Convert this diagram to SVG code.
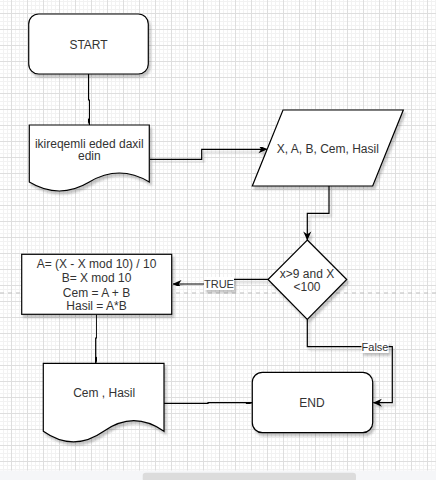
<svg xmlns="http://www.w3.org/2000/svg" width="436" height="480" viewBox="0 0 436 480">
<defs>
<pattern id="grid" x="11" y="13" width="16" height="16" patternUnits="userSpaceOnUse">
<rect x="0" y="0" width="16" height="16" fill="#ffffff"/>
<rect x="4" y="0" width="1" height="16" fill="#f2f2f2"/>
<rect x="8" y="0" width="1" height="16" fill="#f2f2f2"/>
<rect x="12" y="0" width="1" height="16" fill="#f2f2f2"/>
<rect x="0" y="4" width="16" height="1" fill="#f2f2f2"/>
<rect x="0" y="8" width="16" height="1" fill="#f2f2f2"/>
<rect x="0" y="12" width="16" height="1" fill="#f2f2f2"/>
<rect x="0" y="0" width="1" height="16" fill="#dedede"/>
<rect x="0" y="0" width="16" height="1" fill="#dedede"/>
</pattern>
<filter id="sh" x="-20%" y="-20%" width="140%" height="150%">
<feDropShadow dx="2" dy="3" stdDeviation="1" flood-color="#000" flood-opacity="0.22"/>
</filter>
<marker id="arr" viewBox="0 0 10 10" refX="9.5" refY="5" markerWidth="9" markerHeight="9" markerUnits="userSpaceOnUse" orient="auto">
<path d="M0,0.5 L10,5 L0,9.5 L3,5 Z" fill="#000"/>
</marker>
<style>
.shape{fill:#fff;stroke:#000;stroke-width:1.2;filter:url(#sh)}
.t{font-family:"Liberation Sans",Arial,sans-serif;font-size:12px;fill:#333;text-anchor:middle}
.lt{font-family:"Liberation Sans",Arial,sans-serif;font-size:11px;fill:#333;text-anchor:middle}
.edge{fill:none;stroke:#000;stroke-width:1.2;filter:url(#sh)}
.lbl{fill:#fff;filter:url(#sh)}
</style>
</defs>
<rect x="0" y="0" width="436" height="480" fill="url(#grid)"/>
<line x1="0" y1="293" x2="436" y2="293" stroke="#bdbdbd" stroke-width="1" stroke-dasharray="4,4"/>
<rect x="0" y="470.5" width="436" height="9.5" fill="#f5f6f8"/>
<rect x="142.7" y="472.7" width="213.3" height="9" rx="3" fill="#dcdcdc"/>

<g id="connectors">
<path class="edge" d="M88.5,74 V100 H89.5 V125" marker-end="url(#arr)"/>
<path class="edge" d="M150,159.3 H201.7 V149.3 H267" marker-end="url(#arr)"/>
<path class="edge" d="M329,186 V213.3 H307.3 V240" marker-end="url(#arr)"/>
<path class="edge" d="M268,279.3 H219 V284 H173" marker-end="url(#arr)"/>
<path class="edge" d="M96.7,314.3 V338 H95.7 V363.3" marker-end="url(#arr)"/>
<path class="edge" d="M164,403.3 H208 V402.7 H252.3" marker-end="url(#arr)"/>
<path class="edge" d="M307.3,319.5 V346.7 H392.3 V402.7 H373.3" marker-end="url(#arr)"/>
<g id="label-true">
<rect class="lbl" x="204" y="277" width="30" height="13"/>
<text class="lt" x="219" y="287.5">TRUE</text>
</g>
<g id="label-false">
<rect class="lbl" x="361.5" y="341" width="27" height="12"/>
<text class="lt" x="375" y="351">False</text>
</g>
</g>

<g id="start">
<rect class="shape" x="28.7" y="14" width="119.6" height="60" rx="10" ry="10"/>
<text class="t" x="88.5" y="48.5">START</text>
</g>

<g id="input-doc">
<path class="shape" d="M29.3,125 H149.3 V182 Q119.3,164 89.3,182 Q59.3,200 29.3,182 Z"/>
<text class="t" x="89.3" y="147.5">ikireqemli eded daxil</text>
<text class="t" x="89.3" y="160">edin</text>
</g>

<g id="vars">
<path class="shape" d="M283,110 H403.3 L372.7,186 H252.3 Z"/>
<text class="t" x="327.8" y="153">X, A, B, Cem, Hasil</text>
</g>

<g id="decision">
<path class="shape" d="M307.3,240 L346.7,279.5 L307.3,319.5 L268,279.5 Z"/>
<text class="t" x="307" y="277.5">x&gt;9 and X</text>
<text class="t" x="307" y="291">&lt;100</text>
</g>

<g id="process">
<rect class="shape" x="21.7" y="254.3" width="150" height="60"/>
<text class="t" x="96.5" y="268">A= (X - X mod 10) / 10</text>
<text class="t" x="96.5" y="282">B= X mod 10</text>
<text class="t" x="96.5" y="296.5">Cem = A + B</text>
<text class="t" x="96.5" y="310">Hasil = A*B</text>
</g>

<g id="output-doc">
<path class="shape" d="M43.3,363.3 H164 V431.3 Q133.8,410 103.7,431.3 Q73.5,452.6 43.3,431.3 Z"/>
<text class="t" x="104.2" y="397">Cem , Hasil</text>
</g>

<g id="end">
<rect class="shape" x="252.3" y="372.3" width="120.4" height="60.4" rx="10" ry="10"/>
<text class="t" x="312" y="407">END</text>
</g>
</svg>
